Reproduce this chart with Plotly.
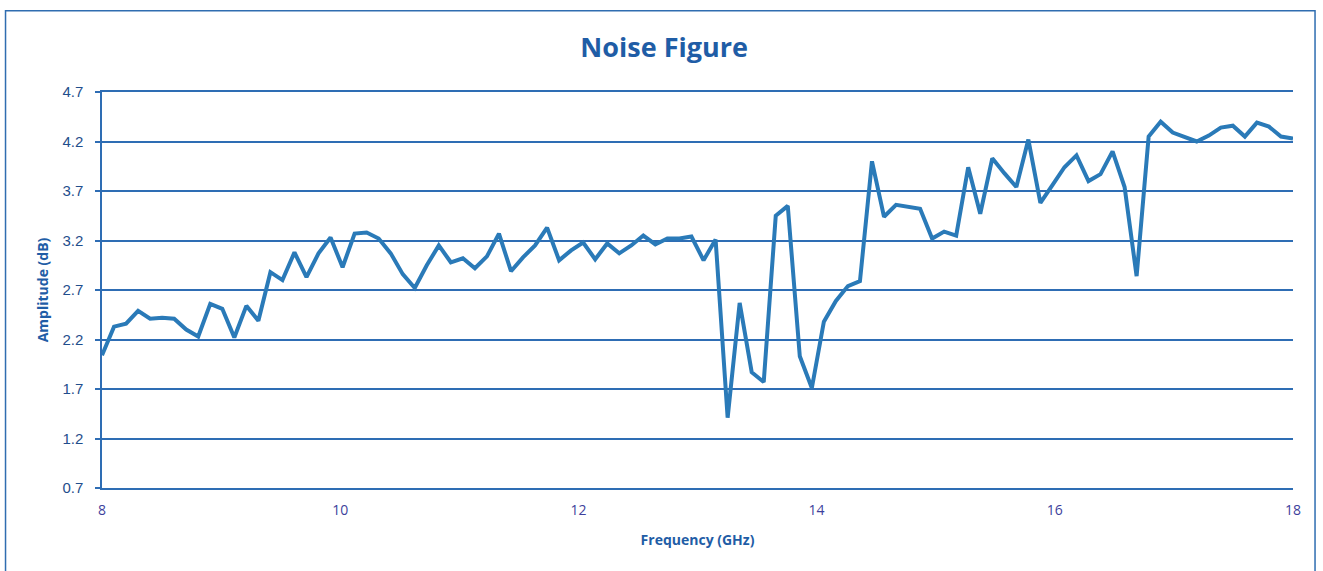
import plotly.graph_objects as go

# Sweep frequencies (GHz), 100 points from 8 to 18
freq_ghz = [
    8.000, 8.101, 8.202, 8.303, 8.404, 8.505, 8.606, 8.707, 8.808, 8.909,
    9.010, 9.111, 9.212, 9.313, 9.414, 9.515, 9.616, 9.717, 9.818, 9.919,
    10.020, 10.121, 10.222, 10.323, 10.424, 10.525, 10.626, 10.727, 10.828, 10.929,
    11.030, 11.131, 11.232, 11.333, 11.434, 11.535, 11.636, 11.737, 11.838, 11.939,
    12.040, 12.141, 12.242, 12.343, 12.444, 12.545, 12.646, 12.747, 12.848, 12.949,
    13.051, 13.152, 13.253, 13.354, 13.455, 13.556, 13.657, 13.758, 13.859, 13.960,
    14.061, 14.162, 14.263, 14.364, 14.465, 14.566, 14.667, 14.768, 14.869, 14.970,
    15.071, 15.172, 15.273, 15.374, 15.475, 15.576, 15.677, 15.778, 15.879, 15.980,
    16.081, 16.182, 16.283, 16.384, 16.485, 16.586, 16.687, 16.788, 16.889, 16.990,
    17.091, 17.192, 17.293, 17.394, 17.495, 17.596, 17.697, 17.798, 17.899, 18.000,
]

# Noise figure amplitude (dB)
noise_db = [
    2.04, 2.33, 2.36, 2.49, 2.41, 2.42, 2.41, 2.30, 2.23, 2.56,
    2.51, 2.22, 2.54, 2.39, 2.88, 2.80, 3.08, 2.83, 3.07, 3.23,
    2.93, 3.27, 3.28, 3.22, 3.07, 2.86, 2.72, 2.95, 3.15, 2.98,
    3.02, 2.92, 3.04, 3.27, 2.89, 3.03, 3.15, 3.33, 3.00, 3.10,
    3.18, 3.01, 3.17, 3.07, 3.15, 3.25, 3.16, 3.22, 3.22, 3.24,
    3.00, 3.21, 1.41, 2.57, 1.87, 1.77, 3.45, 3.55, 2.03, 1.71,
    2.38, 2.59, 2.74, 2.79, 4.00, 3.44, 3.56, 3.54, 3.52, 3.22,
    3.29, 3.25, 3.94, 3.47, 4.03, 3.88, 3.74, 4.22, 3.58, 3.76,
    3.94, 4.06, 3.80, 3.87, 4.10, 3.74, 2.84, 4.25, 4.40, 4.29,
    4.25, 4.20, 4.26, 4.34, 4.36, 4.25, 4.39, 4.35, 4.25, 4.23,
]

y_ticks = [0.7, 1.2, 1.7, 2.2, 2.7, 3.2, 3.7, 4.2, 4.7]
y_tick_labels = ["0.7", "1.2", "1.7", "2.2", "2.7", "3.2", "3.7", "4.2", "4.7"]
x_ticks = [8, 10, 12, 14, 16, 18]
x_tick_labels = ["8", "10", "12", "14", "16", "18"]

GRID = "#2E6DB4"
LINE = "#2A7AB8"
TITLE = "#1F5DA6"

fig = go.Figure()
fig.add_trace(go.Scatter(
    x=freq_ghz, y=noise_db, mode="lines",
    line=dict(color=LINE, width=4),
    showlegend=False,
))

fig.update_layout(
    width=1323, height=571,
    margin=dict(l=102, r=30, t=92, b=83),
    paper_bgcolor="white", plot_bgcolor="white",
    title=dict(
        text="<b>Noise Figure</b>",
        x=0.502, xanchor="center", xref="container",
        y=0.916, yref="container", yanchor="middle",
        font=dict(family="Open Sans", size=27, color=TITLE),
    ),
    xaxis=dict(
        range=[8, 18], tickvals=x_ticks, ticktext=x_tick_labels,
        showgrid=False, zeroline=False, automargin=False,
        showline=True, mirror=True, linecolor=GRID, linewidth=1.5,
        ticks="", ticklabelstandoff=8,
        tickfont=dict(family="Open Sans", size=14, color="#3D3F9C"),
        title=dict(text="<b>Frequency (GHz)</b>", standoff=18,
                   font=dict(family="Open Sans", size=14, color=TITLE)),
    ),
    yaxis=dict(
        range=[0.7, 4.7], tickvals=y_ticks, ticktext=y_tick_labels,
        showgrid=True, gridcolor=GRID, gridwidth=1.5, zeroline=False,
        automargin=False,
        showline=True, linecolor=GRID, linewidth=1.5,
        ticks="outside", ticklen=5, tickcolor=GRID, tickwidth=1.5,
        ticklabelstandoff=9,
        tickfont=dict(family="Liberation Sans", size=15, color="#1F4E8C"),
        title=dict(text="<b>Amplitude (dB)</b>", standoff=10,
                   font=dict(family="Open Sans", size=14, color=TITLE)),
    ),
    shapes=[dict(
        type="rect", xref="paper", yref="paper",
        x0=-0.081, x1=1.0185, y0=-0.3, y1=1.205,
        line=dict(color="#2F6DB0", width=1.5), fillcolor="rgba(0,0,0,0)",
        layer="below",
    )],
)

fig.write_html(
    "out.html",
    config={"displayModeBar": False},
    post_script="document.body.style.margin='0px';",
)
